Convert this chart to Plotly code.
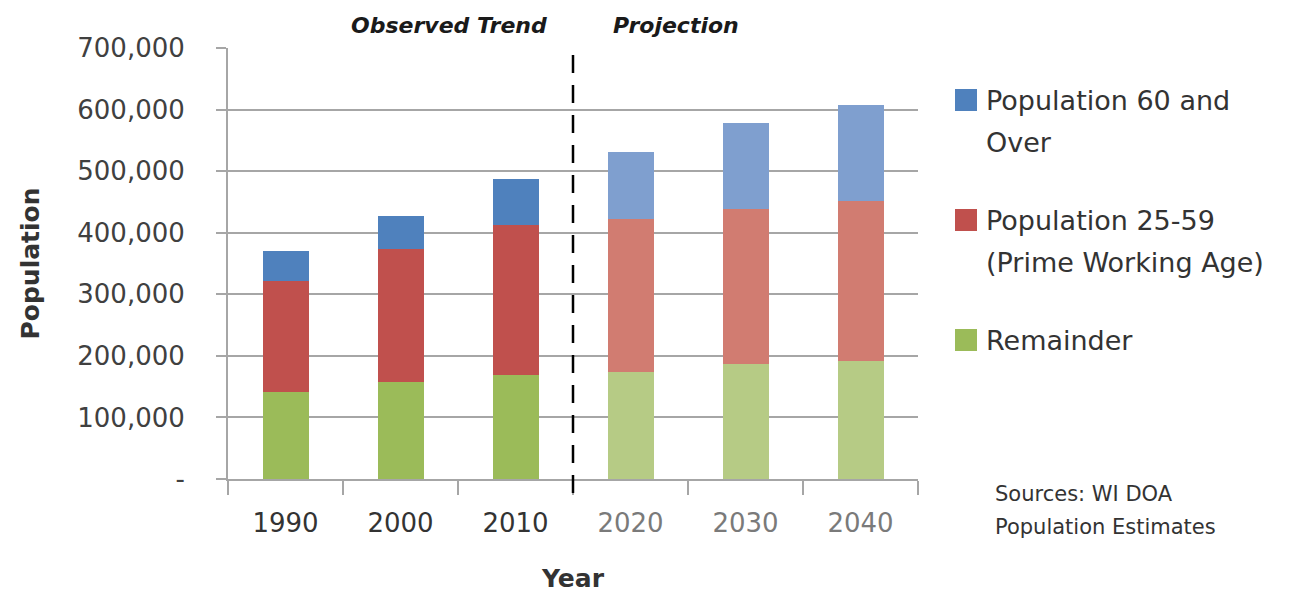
import plotly.graph_objects as go

# Population by age group, Wisconsin: observed (1990-2010) and projected (2020-2040)
years = ["1990", "2000", "2010", "2020", "2030", "2040"]
projected = [False, False, False, True, True, True]

remainder = [141000, 157000, 169000, 173000, 186000, 192000]
prime_working_age = [180000, 216500, 243000, 249000, 252500, 260000]
age_60_plus = [49000, 53000, 75000, 108500, 139000, 155500]

y_tick_values = [0, 100000, 200000, 300000, 400000, 500000, 600000, 700000]
y_tick_labels = ["-", "100,000", "200,000", "300,000", "400,000", "500,000", "600,000", "700,000"]

legend_lines = [
    ["Population 60 and", "Over"],
    ["Population 25-59", "(Prime Working Age)"],
    ["Remainder"],
]
source_lines = ["Sources: WI DOA", "Population Estimates"]

# solid colours for observed years, lighter tints for projections
observed_colors = {"60": "#4F81BD", "prime": "#C0504D", "rest": "#9BBB59"}
projected_colors = {"60": "#7F9FCF", "prime": "#D17C71", "rest": "#B6CB85"}

FONT = "DejaVu Sans"
W, H = 1306, 593
L, R, T, B = 228, 918, 48, 479


def colors_for(key):
    return [projected_colors[key] if p else observed_colors[key] for p in projected]


fig = go.Figure()
series = [
    ("Remainder", remainder, "rest"),
    ("Population 25-59 (Prime Working Age)", prime_working_age, "prime"),
    ("Population 60 and Over", age_60_plus, "60"),
]
for name, values, key in series:
    fig.add_trace(go.Bar(
        x=years, y=values, name=name, width=0.4,
        marker=dict(color=colors_for(key), line=dict(width=0)),
        showlegend=False,
    ))

# x tick labels: observed years dark, projected years grey
x_tick_text = [
    f"<span style='color:{'#7a7a7a' if p else '#333333'}'>{y}</span>"
    for y, p in zip(years, projected)
]


def px_x(x):
    return (x - L) / (R - L)


def px_y(y):
    return (B - y) / (B - T)


fig.update_layout(
    width=W, height=H,
    margin=dict(l=L, r=W - R, t=T, b=H - B),
    paper_bgcolor="white", plot_bgcolor="white",
    barmode="stack",
    font=dict(family=FONT, color="#333333"),
    xaxis=dict(
        type="category", tickvals=years, ticktext=x_tick_text,
        tickfont=dict(size=26),
        showline=True, linecolor="#A6A6A6", linewidth=2,
        ticks="outside", tickson="boundaries", ticklen=14, tickcolor="#A6A6A6", tickwidth=2,
        ticklabelstandoff=20,
        showgrid=False, automargin=False,
        title=dict(text="<b>Year</b>", font=dict(size=25, color="#333333"), standoff=32),
    ),
    yaxis=dict(
        range=[0, 700000], tickvals=y_tick_values, ticktext=y_tick_labels,
        tickfont=dict(size=26, color="#404040"),
        showline=True, linecolor="#A6A6A6", linewidth=2,
        ticks="outside", ticklen=10, tickcolor="#A6A6A6", tickwidth=2,
        ticklabelstandoff=26,
        showgrid=True, gridcolor="#A6A6A6", gridwidth=2,
        zeroline=False, automargin=False,
        title=dict(text="<b>Population</b>", font=dict(size=25, color="#333333"), standoff=31),
    ),
)

# divider between observed and projected years
fig.add_shape(
    type="line", xref="x", yref="paper",
    x0=2.5, x1=2.5, y0=px_y(493), y1=1.0,
    line=dict(color="black", width=2.5, dash="18px,12px"),
)

fig.add_annotation(
    xref="paper", yref="paper", x=px_x(549), y=px_y(25),
    xanchor="right", yanchor="middle", showarrow=False,
    text="<b><i>Observed Trend</i></b>", font=dict(size=22, color="#1a1a1a"),
)
fig.add_annotation(
    xref="paper", yref="paper", x=px_x(611), y=px_y(25),
    xanchor="left", yanchor="middle", showarrow=False,
    text="<b><i>Projection</i></b>", font=dict(size=22, color="#1a1a1a"),
)

# legend: square swatch beside the first line of each entry
legend_colors = [observed_colors["60"], observed_colors["prime"], observed_colors["rest"]]
entry_top = [100, 220, 340]
line_gap = 42
for lines, color, yc in zip(legend_lines, legend_colors, entry_top):
    fig.add_shape(
        type="rect", xref="paper", yref="paper",
        x0=px_x(955), x1=px_x(977), y0=px_y(yc + 11), y1=px_y(yc - 11),
        fillcolor=color, line=dict(width=0),
    )
    for i, line in enumerate(lines):
        fig.add_annotation(
            xref="paper", yref="paper", x=px_x(984), y=px_y(yc + i * line_gap),
            xanchor="left", yanchor="middle", showarrow=False,
            text=line, font=dict(size=27, color="#333333"),
        )

for i, line in enumerate(source_lines):
    fig.add_annotation(
        xref="paper", yref="paper", x=px_x(993), y=px_y(494 + i * 33),
        xanchor="left", yanchor="middle", showarrow=False,
        text=line, font=dict(size=21, color="#333333"),
    )

fig.write_html("out.html")
